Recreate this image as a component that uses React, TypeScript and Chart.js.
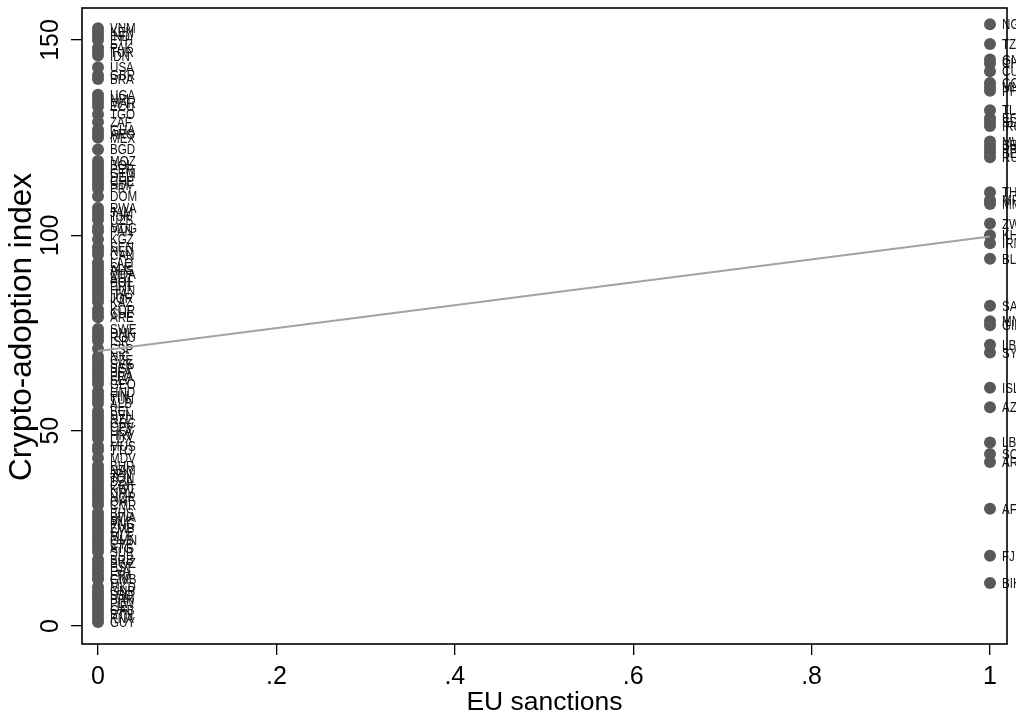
import React, { useEffect, useRef } from "react";
import { Chart, registerables } from "chart.js";

Chart.register(...registerables);

const X_TICKS = [0, 0.2, 0.4, 0.6, 0.8, 1];
const X_TICK_LABELS = ["0", ".2", ".4", ".6", ".8", "1"];
const Y_TICKS = [0, 50, 100, 150];
const X_TITLE = "EU sanctions";
const Y_TITLE = "Crypto-adoption index";

// Countries without EU sanctions (x = 0)
const FREE_CODES = [
  "VNM", "KEN", "IND", "ETH", "PAK", "TUR", "IDN", "USA", "GBR", "BRA",
  "UGA", "NPL", "MAR", "ECU", "TGO", "ZAF", "GHA", "ARG", "MEX", "BGD",
  "MOZ", "BOL", "PER", "GTM", "DEU", "CHE", "HTI", "PRY", "DOM", "RWA",
  "JAM", "TJK", "UZB", "MDG", "PAN", "KGZ", "SEN", "NLD", "CAN", "LAO",
  "SLE", "AUS", "MDA", "AUT", "POL", "PRT", "HUN", "ITA", "JOR", "KAZ",
  "KOR", "CHL", "ARE", "SWE", "DNK", "ROU", "ISR", "ESP", "NIC", "CZE",
  "SVK", "SGP", "BFA", "FRA", "SLV", "GEO", "HND", "FIN", "TUN", "ALB",
  "BEL", "SVN", "NZL", "GRC", "CPV", "LKA", "HRV", "LUX", "MUS", "TTO",
  "MDV", "BHR", "NAM", "JPN", "TON", "DZA", "CRI", "KWT", "URY", "NOR",
  "QAT", "CMR", "BHS", "BWA", "MLI", "PNG", "ZMB", "SYC", "MLT", "OMN",
  "CYP", "ATG", "SUR", "BRB", "SWZ", "EST", "LVA", "LTU", "CIV", "GMB",
  "MKD", "GNB", "LSO", "DJI", "BRN", "PLW", "LIE", "GAB", "BTN", "KNA",
  "GUY",
];
const FREE_INDEX = [
  153, 152, 151, 150, 148, 147, 146, 143, 141, 140,
  136, 135, 134, 133, 131, 129, 127, 126, 125, 122,
  119, 118, 117, 116, 115, 114, 113, 112, 110, 107,
  106, 105, 104, 102, 101, 99, 97, 96, 95, 93,
  92, 91, 90, 89, 88, 87, 86, 85, 84, 83,
  81, 80, 79, 76, 75, 74, 73, 71, 69, 68,
  67, 66, 65, 64, 63, 62, 60, 59, 58, 57,
  55, 54, 53, 52, 51, 50, 49, 48, 46, 45,
  43, 41, 40, 39, 38, 37, 36, 35, 34, 33,
  32, 31, 29, 28, 27, 26, 25, 24, 23, 22,
  21, 20, 19, 17, 16, 15, 14, 13, 12, 12,
  10, 9, 8, 8, 7, 6, 5, 4, 3, 2,
  1,
];

// Countries under EU sanctions (x = 1)
const SANCTIONED_CODES = [
  "NGA", "TZA", "GNQ", "CHN", "CUB", "COL", "MNG", "PHL", "TLS", "EGY",
  "SDN", "IRQ", "MWI", "SRB", "PRK", "BEN", "RUS", "THA", "MRT", "MMR",
  "ZWE", "KHM", "IRN", "BLR", "SAU", "MNE", "GIN", "LBN", "SYR", "ISL",
  "AZE", "LBY", "SOM", "ARM", "AFG", "FJI", "BIH",
];
const SANCTIONED_INDEX = [
  154, 149, 145, 144, 142, 139, 138, 137, 132, 130,
  129, 128, 124, 123, 122, 121, 120, 111, 109, 108,
  103, 100, 98, 94, 82, 78, 77, 72, 70, 61,
  56, 47, 44, 42, 30, 18, 11,
];

const FONT = '"Liberation Sans", Arial, Helvetica, sans-serif';

function fitLine() {
  const xs = [...FREE_INDEX.map(() => 0), ...SANCTIONED_INDEX.map(() => 1)];
  const ys = [...FREE_INDEX, ...SANCTIONED_INDEX];
  const n = xs.length;
  const mx = xs.reduce((a, b) => a + b, 0) / n;
  const my = ys.reduce((a, b) => a + b, 0) / n;
  let sxy = 0;
  let sxx = 0;
  for (let i = 0; i < n; i++) {
    sxy += (xs[i] - mx) * (ys[i] - my);
    sxx += (xs[i] - mx) * (xs[i] - mx);
  }
  const b = sxy / sxx;
  const a = my - b * mx;
  return [
    { x: 0, y: a },
    { x: 1, y: a + b },
  ];
}

const stataPlugin = {
  id: "stataLook",
  beforeDatasetsDraw(chart: any) {
    const ctx = chart.ctx;
    ctx.save();
    ctx.font = `14.5px ${FONT}`;
    ctx.fillStyle = "#141414";
    ctx.textAlign = "left";
    ctx.textBaseline = "middle";
    const groups: [number, string[]][] = [
      [1, FREE_CODES],
      [2, SANCTIONED_CODES],
    ];
    groups.forEach(([di, codes]) => {
      const meta = chart.getDatasetMeta(di);
      meta.data.forEach((pt: any, j: number) => {
        ctx.save();
        ctx.translate(pt.x + 12, pt.y + 1);
        ctx.scale(0.8, 1);
        ctx.fillText(codes[j], 0, 0);
        ctx.restore();
      });
    });
    ctx.restore();
  },
  afterDraw(chart: any) {
    const ctx = chart.ctx;
    const { left, right, top, bottom } = chart.chartArea;
    const xs = chart.scales.x;
    const ys = chart.scales.y;
    ctx.save();
    // frame
    ctx.strokeStyle = "#000";
    ctx.lineWidth = 1.6;
    ctx.strokeRect(left, top, right - left, bottom - top);
    ctx.fillStyle = "#000";
    // x tick labels
    ctx.font = `25px ${FONT}`;
    ctx.textAlign = "center";
    ctx.textBaseline = "alphabetic";
    X_TICKS.forEach((v, i) => {
      ctx.fillText(X_TICK_LABELS[i], xs.getPixelForValue(v), 684);
    });
    // x title
    ctx.font = `26.5px ${FONT}`;
    ctx.fillText(X_TITLE, (left + right) / 2, 710);
    // y tick labels (rotated)
    ctx.font = `25px ${FONT}`;
    Y_TICKS.forEach((v) => {
      ctx.save();
      ctx.translate(58, ys.getPixelForValue(v));
      ctx.rotate(-Math.PI / 2);
      ctx.fillText(String(v), 0, 0);
      ctx.restore();
    });
    // y title
    ctx.font = `31.5px ${FONT}`;
    ctx.save();
    ctx.translate(31, (top + bottom) / 2 + 1);
    ctx.rotate(-Math.PI / 2);
    ctx.fillText(Y_TITLE, 0, 0);
    ctx.restore();
    ctx.restore();
  },
};

export default function App() {
  const ref = useRef<HTMLCanvasElement>(null);
  useEffect(() => {
    if (!ref.current) return;
    const chart = new Chart(ref.current, {
      type: "scatter",
      data: {
        datasets: [
          {
            type: "line",
            data: fitLine(),
            borderColor: "#a3a3a3",
            borderWidth: 2,
            pointRadius: 0,
            fill: false,
          } as any,
          {
            data: FREE_INDEX.map((v) => ({ x: 0, y: v })),
            backgroundColor: "#595959",
            borderColor: "#595959",
            borderWidth: 0,
            pointRadius: 6,
          },
          {
            data: SANCTIONED_INDEX.map((v) => ({ x: 1, y: v })),
            backgroundColor: "#595959",
            borderColor: "#595959",
            borderWidth: 0,
            pointRadius: 6,
          },
        ],
      },
      options: {
        responsive: false,
        animation: false,
        events: [],
        layout: { padding: { top: 8, right: 9, left: 0, bottom: 0 } },
        plugins: {
          legend: { display: false },
          tooltip: { enabled: false },
        },
        scales: {
          x: {
            type: "linear",
            min: -0.01794,
            max: 1.01906,
            afterBuildTicks: (s: any) => {
              s.ticks = X_TICKS.map((v) => ({ value: v }));
            },
            afterFit: (s: any) => {
              s.height = 76;
            },
            ticks: { display: false },
            border: { display: false },
            grid: {
              drawOnChartArea: false,
              drawTicks: true,
              tickLength: 11,
              color: "#000",
              lineWidth: 1.3,
            },
          },
          y: {
            type: "linear",
            min: -4.607,
            max: 158.19,
            afterBuildTicks: (s: any) => {
              s.ticks = Y_TICKS.map((v) => ({ value: v }));
            },
            afterFit: (s: any) => {
              s.width = 82;
            },
            ticks: { display: false },
            border: { display: false },
            grid: {
              drawOnChartArea: false,
              drawTicks: true,
              tickLength: 11,
              color: "#000",
              lineWidth: 1.3,
            },
          },
        },
      },
      plugins: [stataPlugin],
    });
    return () => chart.destroy();
  }, []);
  return (
    <div style={{ position: "absolute", left: 0, top: 0, width: 1016, height: 720, background: "#fff" }}>
      <canvas ref={ref} width={1016} height={720} style={{ display: "block" }} />
    </div>
  );
}
